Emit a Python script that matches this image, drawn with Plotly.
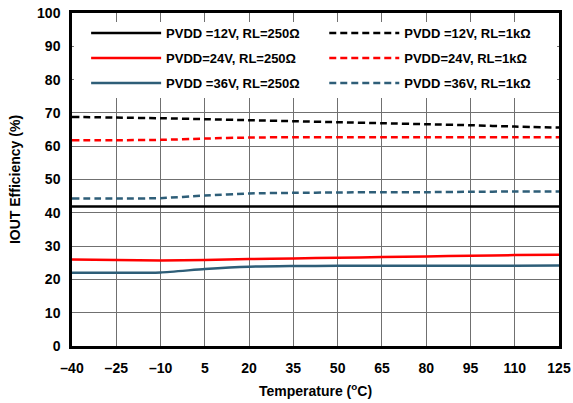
import plotly.graph_objects as go

temps = [-40, -25, -10, 5, 20, 35, 50, 65, 80, 95, 110, 125]
tick_vals = [-40, -25, -10, 5, 20, 35, 50, 65, 80, 95, 110, 125]
tick_text = ["\u201340", "\u201325", "\u201310", "5", "20", "35", "50", "65", "80", "95", "110", "125"]

eff_12v_250 = [41.9, 41.9, 41.9, 41.9, 41.9, 41.9, 41.9, 41.9, 41.9, 41.9, 41.9, 41.9]
eff_12v_1k = [68.8, 68.6, 68.4, 68.1, 67.8, 67.5, 67.2, 66.9, 66.6, 66.3, 65.9, 65.6]
eff_24v_250 = [26.0, 25.8, 25.7, 25.8, 26.1, 26.3, 26.5, 26.7, 26.9, 27.1, 27.3, 27.4]
eff_24v_1k = [61.8, 61.8, 61.9, 62.3, 62.6, 62.7, 62.7, 62.7, 62.7, 62.7, 62.7, 62.7]
eff_36v_250 = [22.0, 22.0, 22.1, 23.1, 23.8, 24.0, 24.1, 24.1, 24.1, 24.1, 24.1, 24.2]
eff_36v_1k = [44.3, 44.3, 44.4, 45.2, 45.8, 46.0, 46.1, 46.2, 46.2, 46.3, 46.4, 46.4]

# name, values, color, dash, legend id, legend column x, legend row y
series = [
    ("PVDD =12V, RL=250\u03a9", eff_12v_250, "#000000", "solid", "legend", 0.029, 0.94),
    ("PVDD =12V, RL=1k\u03a9", eff_12v_1k, "#000000", "7px,4px", "legend2", 0.518, 0.94),
    ("PVDD=24V, RL=250\u03a9", eff_24v_250, "#FF0000", "solid", "legend3", 0.029, 0.865),
    ("PVDD=24V, RL=1k\u03a9", eff_24v_1k, "#FF0000", "7px,4px", "legend4", 0.518, 0.865),
    ("PVDD =36V, RL=250\u03a9", eff_36v_250, "#2E5E78", "solid", "legend5", 0.029, 0.79),
    ("PVDD =36V, RL=1k\u03a9", eff_36v_1k, "#2E5E78", "7px,4px", "legend6", 0.518, 0.79),
]

font_family = "Liberation Sans, Arial, sans-serif"

fig = go.Figure()
legends = {}
for name, vals, color, dash, leg, lx, ly in series:
    fig.add_trace(go.Scatter(
        x=temps, y=vals, name=name, mode="lines", legend=leg,
        line=dict(color=color, width=2.5, dash=dash, shape="spline", smoothing=0.6),
    ))
    legends[leg] = dict(
        orientation="h", x=lx, y=ly, xanchor="left", yanchor="middle",
        itemwidth=70, bgcolor="rgba(0,0,0,0)",
        font=dict(family=font_family, size=13, color="black", weight="bold"),
    )

# white backdrop behind the legend
fig.add_shape(type="rect", xref="paper", yref="paper",
              x0=0.004, x1=0.996, y0=0.745, y1=0.973,
              fillcolor="white", line=dict(width=0), layer="above")

fig.update_layout(
    width=573, height=403,
    margin=dict(l=72, r=14, t=13, b=57),
    paper_bgcolor="white", plot_bgcolor="white",
    font=dict(family=font_family, size=13, color="black"),
    showlegend=True,
    **legends,
    xaxis=dict(
        range=[-40, 125], tickvals=tick_vals, ticktext=tick_text,
        showgrid=True, gridcolor="#707070", gridwidth=1,
        showline=True, linecolor="black", linewidth=2.5, mirror=True,
        ticks="", zeroline=False, automargin=False, ticklabelstandoff=7,
        tickfont=dict(family=font_family, size=14, weight="bold"),
        title=dict(text="Temperature (<sup>o</sup>C)", standoff=12,
                   font=dict(family=font_family, size=14, weight="bold")),
    ),
    yaxis=dict(
        range=[0, 100], dtick=10,
        showgrid=True, gridcolor="#707070", gridwidth=1,
        showline=True, linecolor="black", linewidth=2.5, mirror=True,
        ticks="", zeroline=False, automargin=False, ticklabelstandoff=6,
        tickfont=dict(family=font_family, size=14, weight="bold"),
        title=dict(text="IOUT Efficiency (%)", standoff=14,
                   font=dict(family=font_family, size=14, weight="bold")),
    ),
)

fig.write_html("out.html", config={"displayModeBar": False},
               post_script="document.body.style.margin='0';")
